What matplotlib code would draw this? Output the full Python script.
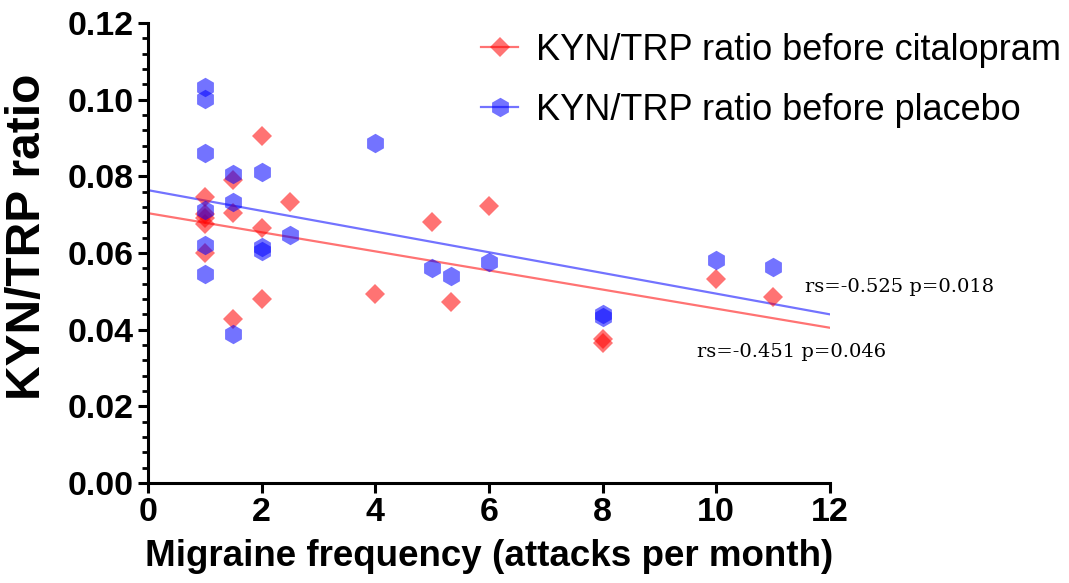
import matplotlib

matplotlib.use("Agg")
import matplotlib.pyplot as plt
from matplotlib.lines import Line2D
from matplotlib.ticker import FormatStrFormatter, MultipleLocator

# KYN/TRP ratio vs migraine frequency
cit_x = [1, 1, 1, 1, 1, 1.5, 1.5, 1.5, 2, 2, 2, 2.5, 4, 5, 5.33, 6, 8, 8, 10, 11]
cit_y = [0.0745, 0.0702, 0.0692, 0.0675, 0.0600, 0.0790, 0.0705, 0.0427,
         0.0905, 0.0664, 0.0481, 0.0734, 0.0493, 0.0682, 0.0473, 0.0723,
         0.0375, 0.0365, 0.0531, 0.0486]

pla_x = [1, 1, 1, 1, 1, 1, 1.5, 1.5, 1.5, 2, 2, 2, 2.5, 4, 5, 5.33, 6, 8, 8, 10, 11]
pla_y = [0.1034, 0.1001, 0.0862, 0.0712, 0.0622, 0.0545, 0.0806, 0.0733,
         0.0390, 0.0811, 0.0617, 0.0604, 0.0647, 0.0888, 0.0562, 0.0541,
         0.0576, 0.0442, 0.0434, 0.0583, 0.0563]

# regression lines (endpoints at x = 0 and x = 12)
fit_x = [0, 12]
cit_fit = [0.0704, 0.0405]
pla_fit = [0.0764, 0.0440]

cit_label = "KYN/TRP ratio before citalopram"
pla_label = "KYN/TRP ratio before placebo"
cit_stat = "rs=-0.451 p=0.046"
pla_stat = "rs=-0.525 p=0.018"

RED = (1.0, 0.0, 0.0, 0.55)
BLUE = (0.0, 0.0, 1.0, 0.55)
SANS = "Liberation Sans"

fig = plt.figure(figsize=(10.69, 5.83), dpi=100)
ax = fig.add_axes([0.1384, 0.1715, 0.638, 0.789])

ax.plot(fit_x, cit_fit, color=(1, 0, 0, 0.55), linewidth=1.6, zorder=2)
ax.plot(fit_x, pla_fit, color=(0, 0, 1, 0.55), linewidth=1.6, zorder=2)
ax.plot(cit_x, cit_y, linestyle="none", marker="D", markersize=10,
        markerfacecolor=RED, markeredgewidth=0, zorder=3)
ax.plot(pla_x, pla_y, linestyle="none", marker="h", markersize=14,
        markerfacecolor=BLUE, markeredgewidth=0, zorder=3)

ax.text(11.56, 0.0511, pla_stat, family="DejaVu Serif", fontsize=14,
        ha="left", va="center", clip_on=False)
ax.text(9.66, 0.0342, cit_stat, family="DejaVu Serif", fontsize=14,
        ha="left", va="center", clip_on=False)

ax.set_xlim(0, 12)
ax.set_ylim(0, 0.12)
ax.xaxis.set_major_locator(MultipleLocator(2))
ax.yaxis.set_major_locator(MultipleLocator(0.02))
ax.yaxis.set_minor_locator(MultipleLocator(0.004))
ax.yaxis.set_major_formatter(FormatStrFormatter("%.2f"))

for s in ("top", "right"):
    ax.spines[s].set_visible(False)
for s in ("left", "bottom"):
    ax.spines[s].set_linewidth(2.2)
ax.tick_params(axis="both", which="major", length=7, width=2.2, direction="out", pad=3)
ax.tick_params(axis="y", which="minor", length=4, width=2.0, direction="out")
for lab in ax.get_xticklabels() + ax.get_yticklabels():
    lab.set_family(SANS)
    lab.set_fontweight("bold")
    lab.set_fontsize(24.5)

ax.set_xlabel("Migraine frequency (attacks per month)", family=SANS,
              fontweight="bold", fontsize=26.5, labelpad=8)
ax.set_ylabel("KYN/TRP ratio", family=SANS, fontweight="bold", fontsize=34.5)
ax.yaxis.set_label_coords(-0.144, 0.535)

handles = [
    Line2D([], [], color=(1, 0, 0, 0.55), linewidth=1.6, marker="D", markersize=10,
           markerfacecolor=RED, markeredgewidth=0),
    Line2D([], [], color=(0, 0, 1, 0.55), linewidth=1.6, marker="h", markersize=14,
           markerfacecolor=BLUE, markeredgewidth=0),
]
fig.legend(handles, [cit_label, pla_label], loc="upper left",
           bbox_to_anchor=(0.42, 1.0), frameon=False,
           prop={"family": SANS, "size": 26},
           handlelength=1.0, handletextpad=0.5, labelspacing=0.7)

fig.savefig("out.png", dpi=100)
